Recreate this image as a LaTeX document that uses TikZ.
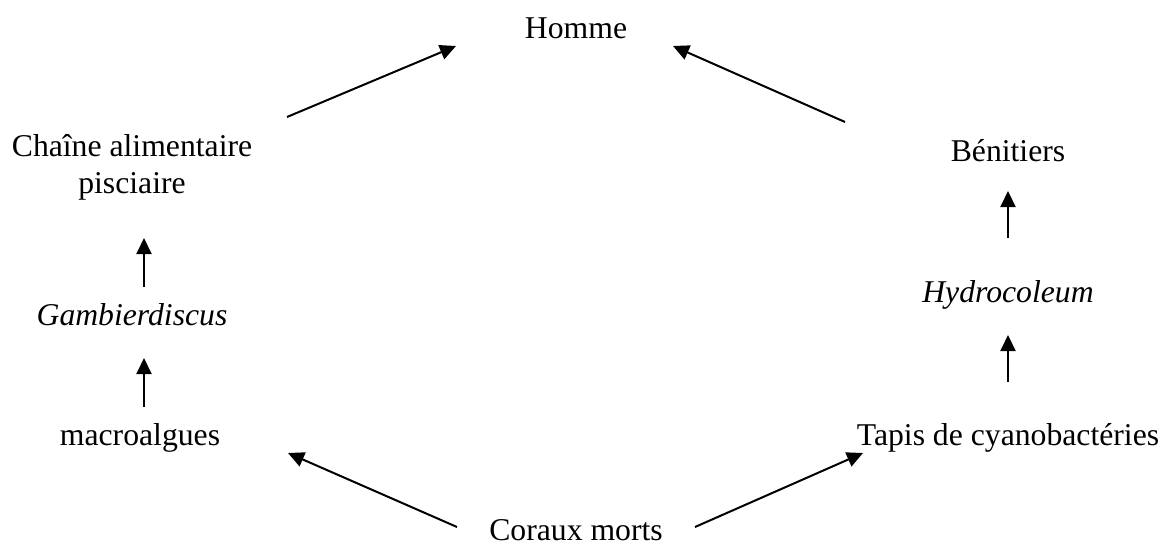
\documentclass[tikz,border=0pt]{standalone}
\usepackage{fontspec}
\setmainfont{Liberation Serif}
\usetikzlibrary{arrows.meta}
\begin{document}
\begin{tikzpicture}[x=1pt,y=-1pt,
  lbl/.style={inner sep=0pt,anchor=base,font=\fontsize{31.7}{37}\selectfont},
  flow/.style={line width=2pt,-{Triangle[length=16pt,width=15pt]}}]
  \useasboundingbox (0,0) rectangle (1170,546);
  \node[lbl] (homme) at (576,38) {Homme};
  \node[lbl,align=center] (chaine) at (132,193) {Chaîne alimentaire\\pisciaire};
  \node[lbl] (gambier) at (132,325) {\itshape Gambierdiscus};
  \node[lbl] (macro) at (140,445) {macroalgues};
  \node[lbl] (coraux) at (576,540) {Coraux morts};
  \node[lbl] (tapis) at (1008,445) {Tapis de cyanobactéries};
  \node[lbl] (hydro) at (1008,302) {\itshape Hydrocoleum};
  \node[lbl] (benit) at (1008,161) {Bénitiers};
  \foreach \n/\x/\y in {lA/287/117,lB/456/46,rA/845/122,rB/673/46,
                        gA/144/287,gB/144/238,mA/144/407,mB/144/358,
                        hA/1008/238,hB/1008/191,tA/1008/382,tB/1008/335,
                        cA/457/527,cB/288/453,dA/695/527,dB/863/453}
    \coordinate (\n) at (\x,\y);
  \foreach \s/\t in {lA/lB,rA/rB,gA/gB,mA/mB,hA/hB,tA/tB,cA/cB,dA/dB}
    \draw[flow] (\s) -- (\t);
\end{tikzpicture}
\end{document}
